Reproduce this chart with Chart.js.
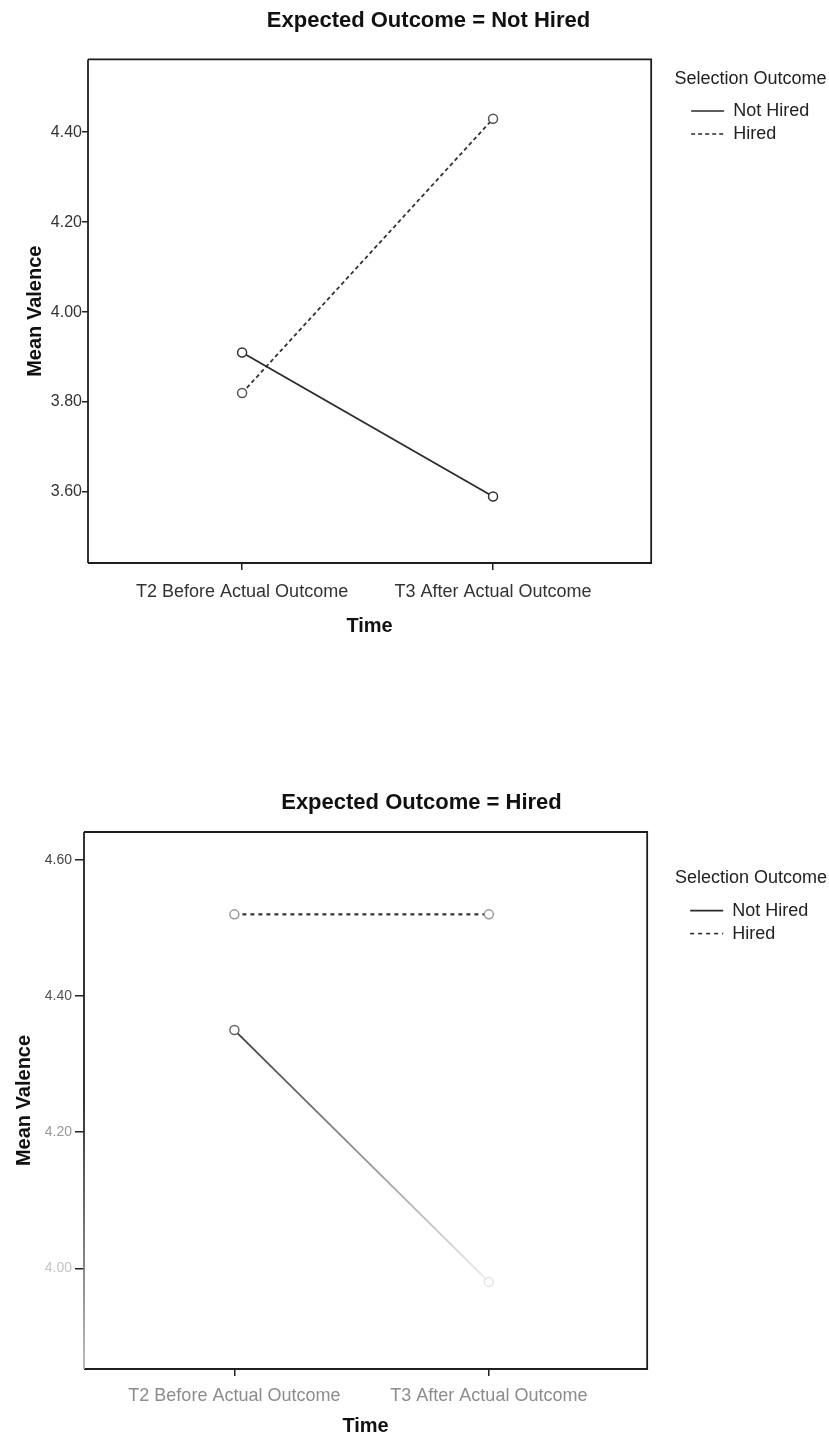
<!DOCTYPE html>
<html>
<head>
<meta charset="utf-8">
<script src="https://cdn.jsdelivr.net/npm/chart.js@4.4.1/dist/chart.umd.min.js"></script>
<style>
  html, body { margin: 0; padding: 0; background: #fff; }
  body { width: 829px; height: 1441px; position: relative; overflow: hidden; }
  .panel { position: absolute; left: 0; width: 829px; }
  #panelTop { top: 0; height: 700px; }
  #panelBottom { top: 760px; height: 681px; }
  canvas { display: block; }
</style>
</head>
<body>
<div class="panel" id="panelTop"><canvas id="chartTop" width="829" height="700"></canvas></div>
<div class="panel" id="panelBottom"><canvas id="chartBottom" width="829" height="681"></canvas></div>
<script>
// Categories on the time axis
const timeLabels = ['T2 Before Actual Outcome', 'T3 After Actual Outcome'];
const seriesNames = ['Not Hired', 'Hired'];

// Panel: Expected Outcome = Not Hired
const expNotHiredTitle = 'Expected Outcome = Not Hired';
const expNotHired_notHired = [3.91, 3.59];
const expNotHired_hired = [3.82, 4.43];
const expNotHiredTicks = [3.60, 3.80, 4.00, 4.20, 4.40];

// Panel: Expected Outcome = Hired
const expHiredTitle = 'Expected Outcome = Hired';
const expHired_notHired = [4.35, 3.98];
const expHired_hired = [4.52, 4.52];
const expHiredTicks = [4.00, 4.20, 4.40, 4.60];

Chart.defaults.font.family = '"Liberation Sans", Arial, Helvetica, sans-serif';
Chart.defaults.color = '#222';

// Box round the plotting area
const plotFrame = {
  id: 'plotFrame',
  beforeDatasetsDraw(chart, args, opts) {
    const a = chart.chartArea;
    const ctx = chart.ctx;
    ctx.save();
    ctx.lineWidth = opts.width;
    ctx.strokeStyle = opts.color;
    ctx.beginPath();
    ctx.moveTo(a.left, a.top);
    ctx.lineTo(a.right, a.top);
    ctx.lineTo(a.right, a.bottom);
    ctx.lineTo(a.left, a.bottom);
    ctx.stroke();
    if (opts.leftFade) {
      const g = ctx.createLinearGradient(0, a.top, 0, a.bottom);
      g.addColorStop(0, opts.color);
      g.addColorStop(0.5, opts.color);
      g.addColorStop(1, opts.leftFade);
      ctx.strokeStyle = g;
    }
    ctx.beginPath();
    ctx.moveTo(a.left, a.top);
    ctx.lineTo(a.left, a.bottom);
    ctx.stroke();
    ctx.restore();
  }
};

// The legend heading is wider than the legend column; draw it without clipping
const legendNoClip = {
  id: 'legendNoClip',
  afterLayout(chart) {
    const lg = chart.legend;
    if (lg && !lg.__noClip) {
      lg.__noClip = true;
      lg.draw = function () {
        if (this.options.display) this._draw();
      };
    }
  }
};

function toPoints(values) {
  return values.map((v, i) => ({ x: i + 1, y: v }));
}

function legendItems(chart) {
  return chart.data.datasets.map((ds, i) => ({
    text: ds.label,
    strokeStyle: '#2a2a2a',
    fillStyle: 'rgba(0,0,0,0)',
    lineWidth: 1.6,
    lineDash: ds.borderDash || [],
    pointStyle: 'line',
    fontColor: '#222',
    hidden: false,
    datasetIndex: i
  }));
}

function buildPanel(canvasId, p) {
  return new Chart(document.getElementById(canvasId), {
    type: 'line',
    data: {
      datasets: [
        {
          label: seriesNames[0],
          data: toPoints(p.notHired),
          borderColor: p.notHiredLine,
          borderWidth: 1.8,
          pointRadius: 4.5,
          pointBorderWidth: 1.5,
          pointBackgroundColor: '#fff',
          pointBorderColor: p.notHiredPoints,
          tension: 0
        },
        {
          label: seriesNames[1],
          data: toPoints(p.hired),
          borderColor: '#333',
          borderWidth: p.dashWidth,
          borderDash: p.dash,
          pointRadius: 4.5,
          pointBorderWidth: 1.5,
          pointBackgroundColor: '#fff',
          pointBorderColor: p.hiredPoints,
          tension: 0
        }
      ]
    },
    options: {
      responsive: false,
      animation: false,
      events: [],
      layout: { padding: p.padding },
      scales: {
        x: {
          type: 'linear',
          min: p.xMin,
          max: p.xMax,
          afterBuildTicks: (s) => { s.ticks = timeLabels.map((_, i) => ({ value: i + 1 })); },
          afterFit: (s) => { s.height = p.xAxisHeight; },
          grid: { display: true, drawOnChartArea: false, drawTicks: true, tickLength: 7, color: '#222', lineWidth: 1.5 },
          border: { display: false },
          ticks: {
            autoSkip: false, maxRotation: 0, minRotation: 0,
            padding: p.xTickPad,
            color: p.xTickColor,
            font: { size: 18 },
            callback: (v) => timeLabels[Math.round(v) - 1] || ''
          },
          title: {
            display: true, text: 'Time', color: '#111',
            font: { size: 20, weight: 'bold' },
            padding: { top: 0, bottom: p.xTitlePad }
          }
        },
        y: {
          type: 'linear',
          position: 'left',
          min: p.yMin,
          max: p.yMax,
          afterBuildTicks: (s) => { s.ticks = p.ticks.map((v) => ({ value: v })); },
          afterFit: (s) => { s.width = p.yAxisWidth; },
          grid: { display: true, drawOnChartArea: false, drawTicks: true, tickLength: p.yTickLen, color: '#222', lineWidth: 1.5 },
          border: { display: false },
          ticks: {
            padding: p.yTickPad,
            color: p.yTickColor,
            font: { size: p.yTickSize },
            callback: (v) => Number(v).toFixed(2)
          },
          title: {
            display: true, text: 'Mean Valence', color: '#111',
            font: { size: 20, weight: 'bold' },
            padding: { top: p.yTitlePad, bottom: 0 }
          }
        },
        gap: {
          type: 'linear',
          position: 'right',
          display: true,
          grid: { display: false },
          border: { display: false },
          ticks: { display: false },
          afterFit: (s) => { s.width = p.legendGap; }
        }
      },
      plugins: {
        title: {
          display: true,
          text: p.title,
          color: '#111',
          font: { size: 22, weight: 'bold' },
          padding: p.titlePad
        },
        legend: {
          position: 'right',
          align: 'start',
          fullSize: false,
          title: {
            display: true,
            text: 'Selection Outcome',
            color: '#222',
            font: { size: 18 },
            padding: p.legendTitlePad
          },
          labels: {
            usePointStyle: true,
            pointStyleWidth: 33,
            padding: 5,
            color: '#222',
            font: { size: 18 },
            generateLabels: legendItems
          }
        },
        tooltip: { enabled: false },
        plotFrame: { color: '#1e1e1e', width: 1.8, leftFade: p.leftFade }
      }
    },
    plugins: [plotFrame, legendNoClip]
  });
}

// Upper panel
buildPanel('chartTop', {
  title: expNotHiredTitle,
  notHired: expNotHired_notHired,
  hired: expNotHired_hired,
  ticks: expNotHiredTicks,
  yMin: 3.442, yMax: 4.562,
  xMin: 0.386, xMax: 2.63,
  padding: { left: 42, right: 14, top: 0, bottom: 57 },
  titlePad: { top: 8, bottom: 25 },
  yAxisWidth: 46, yTickLen: 6, yTickPad: 0, yTickSize: 16, yTitlePad: -19,
  yTickColor: '#333',
  xAxisHeight: 80, xTickPad: 11, xTitlePad: 5, xTickColor: '#333',
  legendGap: 35,
  legendTitlePad: { top: 11, bottom: 5 },
  notHiredLine: '#2b2b2b',
  notHiredPoints: '#333',
  hiredPoints: '#555',
  dash: [4, 3], dashWidth: 1.8,
  leftFade: null
});

// Lower panel
buildPanel('chartBottom', {
  title: expHiredTitle,
  notHired: expHired_notHired,
  hired: expHired_hired,
  ticks: expHiredTicks,
  yMin: 3.852, yMax: 4.641,
  xMin: 0.409, xMax: 2.622,
  padding: { left: 26, right: 12, top: 0, bottom: 2 },
  titlePad: { top: 30, bottom: 15.6 },
  yAxisWidth: 58, yTickLen: 9, yTickPad: 3, yTickSize: 14, yTitlePad: -14,
  yTickColor: (c) => ['#c4c4c4', '#999', '#555', '#444'][c.index] || '#555',
  xAxisHeight: 70, xTickPad: 9, xTitlePad: 1, xTickColor: '#8c8c8c',
  legendGap: 38,
  legendTitlePad: { top: 37, bottom: 6 },
  notHiredLine: (c) => {
    const chart = c.chart;
    if (!chart.chartArea) return '#666';
    const xs = chart.scales.x;
    const g = chart.ctx.createLinearGradient(xs.getPixelForValue(1), 0, xs.getPixelForValue(2), 0);
    g.addColorStop(0, '#3c3c3c');
    g.addColorStop(0.55, '#9a9a9a');
    g.addColorStop(1, '#ececec');
    return g;
  },
  notHiredPoints: ['#666', '#e4e4e4'],
  hiredPoints: '#999',
  dash: [4, 4], dashWidth: 2.2,
  leftFade: '#b5b5b5'
});
</script>
</body>
</html>
